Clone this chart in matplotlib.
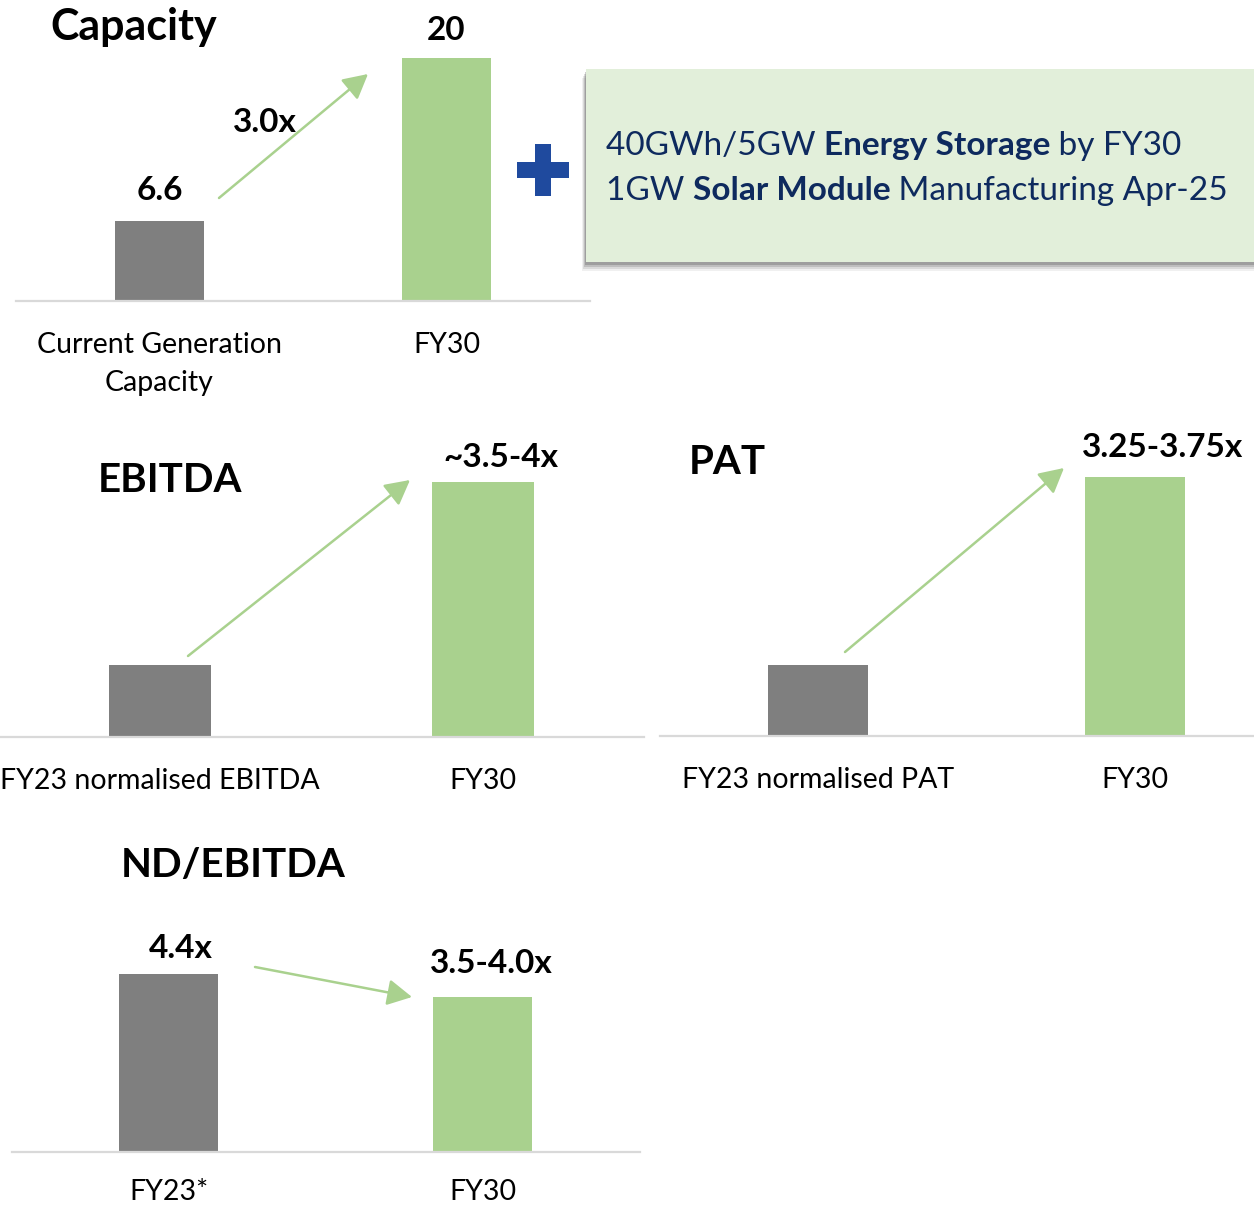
import matplotlib
matplotlib.use("Agg")
import matplotlib.pyplot as plt
from matplotlib.patches import Rectangle, FancyArrowPatch
from matplotlib.transforms import Affine2D

plt.rcParams['font.family'] = ['Lato', 'DejaVu Sans']

# ---------------- data ----------------
cap_categories = ["Current Generation\nCapacity", "FY30"]
cap_values = [6.6, 20]
cap_labels = ["6.6", "20"]

ebitda_categories = ["FY23 normalised EBITDA", "FY30"]
ebitda_values = [1.0, 3.55]          # indexed to FY23 = 1
ebitda_labels = ["", "~3.5-4x"]

pat_categories = ["FY23 normalised PAT", "FY30"]
pat_values = [1.0, 3.65]             # indexed to FY23 = 1
pat_labels = ["", "3.25-3.75x"]

nd_categories = ["FY23*", "FY30"]
nd_values = [4.4, 3.83]
nd_labels = ["4.4x", "3.5-4.0x"]

box_line1 = [("40GWh/5GW ", "normal"), ("Energy Storage", "bold"), (" by FY30", "normal")]
box_line2 = [("1GW ", "normal"), ("Solar Module", "bold"), (" Manufacturing Apr-25", "normal")]

# ---------------- style ----------------
W, H = 1254, 1206
GRAY = "#7F7F7F"
GREEN = "#A9D18E"
AXIS = "#D9D9D9"
NAVY = "#0E2A5E"
BLUE = "#1F4A9E"
BOXFILL = "#E2EFDA"

fig = plt.figure(figsize=(W / 100, H / 100), dpi=100)
pix = Affine2D().scale(1 / W, -1 / H).translate(0, 1) + fig.transFigure


def panel(left, right, base, top, ymax, cats, vals, width, labels, offsets, pad=22):
    ax = fig.add_axes([left / W, 1 - base / H, (right - left) / W, (base - top) / H])
    ax.bar(range(len(vals)), vals, width=width, color=[GRAY, GREEN], zorder=2)
    ax.set_xlim(-0.5, 1.5)
    ax.set_ylim(0, ymax)
    for s in ["top", "left", "right"]:
        ax.spines[s].set_visible(False)
    ax.spines["bottom"].set_color(AXIS)
    ax.spines["bottom"].set_linewidth(1.6)
    ax.set_yticks([])
    ax.set_xticks(range(len(cats)))
    ax.set_xticklabels(cats, fontsize=20.5, color="black", linespacing=1.6)
    ax.tick_params(axis="x", length=0, pad=pad)
    ax.patch.set_alpha(0)
    for i, (v, lab, off) in enumerate(zip(vals, labels, offsets)):
        if lab:
            ax.annotate(lab, (i, v), xytext=off, textcoords="offset points",
                        ha="center", va="center", fontsize=24, fontweight="bold")
    return ax


panel(16, 590, 301, 40, 20 * 261 / 243, cap_categories, cap_values, 89 / 287,
      cap_labels, [(0, 22), (0, 20)])
panel(-1.5, 644.5, 737, 440, 3.55 * 297 / 255, ebitda_categories, ebitda_values, 102 / 323,
      ebitda_labels, [(0, 0), (13, 18)])
panel(659.5, 1293.5, 736, 440, 3.65 * 296 / 259, pat_categories, pat_values, 100 / 317,
      pat_labels, [(0, 0), (19.5, 21.5)])
panel(11.5, 639.5, 1152, 900, 4.4 * 252 / 178, nd_categories, nd_values, 99 / 314,
      nd_labels, [(9, 18.7), (6, 24.5)], pad=19.5)

# titles
for txt, x, y, fs in [("Capacity", 50, 40, 31), ("EBITDA", 98, 492, 29),
                      ("PAT", 689, 474, 29), ("ND/EBITDA", 121, 877, 29)]:
    fig.text(x, y, txt, transform=pix, ha="left", va="baseline",
             fontsize=fs, fontweight="bold", color="black")

# "3.0x" label near capacity arrow
fig.text(265, 132, "3.0x", transform=pix, ha="center", va="baseline",
         fontsize=24, fontweight="bold", color="black")

# arrows
for (x0, y0), (x1, y1) in [((219, 198), (368, 74)), ((188, 656), (410, 480)),
                           ((845, 652), (1064, 468)), ((255, 967), (412, 997))]:
    fig.add_artist(FancyArrowPatch((x0, y0), (x1, y1), transform=pix,
                                   arrowstyle="-|>,head_length=0.75,head_width=0.4",
                                   mutation_scale=20, color=GREEN, lw=1.8,
                                   shrinkA=0, shrinkB=0))

# plus sign
fig.add_artist(Rectangle((517, 162), 52, 16, transform=pix, color=BLUE, lw=0))
fig.add_artist(Rectangle((535, 144), 16, 52, transform=pix, color=BLUE, lw=0))

# info box with soft shadow
for k, a in [(9, 0.08), (7, 0.12), (5, 0.18), (3, 0.25)]:
    fig.add_artist(Rectangle((586 - k * 0.5, 69 + k), 700, 193, transform=pix,
                             color="#404040", alpha=a, lw=0))
fig.add_artist(Rectangle((586, 69), 700, 193, transform=pix, color=BOXFILL, lw=0))

renderer = fig.canvas.get_renderer()
for parts, ybase in [(box_line1, 155), (box_line2, 200)]:
    last = None
    for txt, wt in parts:
        if last is None:
            t = fig.text(606, ybase, txt, transform=pix, ha="left", va="baseline",
                         fontsize=24, fontweight=wt, color=NAVY)
        else:
            t = fig.text(0, 0, txt, ha="left", va="baseline", fontsize=24,
                         fontweight=wt, color=NAVY)
            bb = last.get_window_extent(renderer)
            pos = fig.transFigure.inverted().transform((bb.x1, 0))
            t.set_position((pos[0], 1 - ybase / H))
        last = t

fig.savefig("out.png", dpi=100)
